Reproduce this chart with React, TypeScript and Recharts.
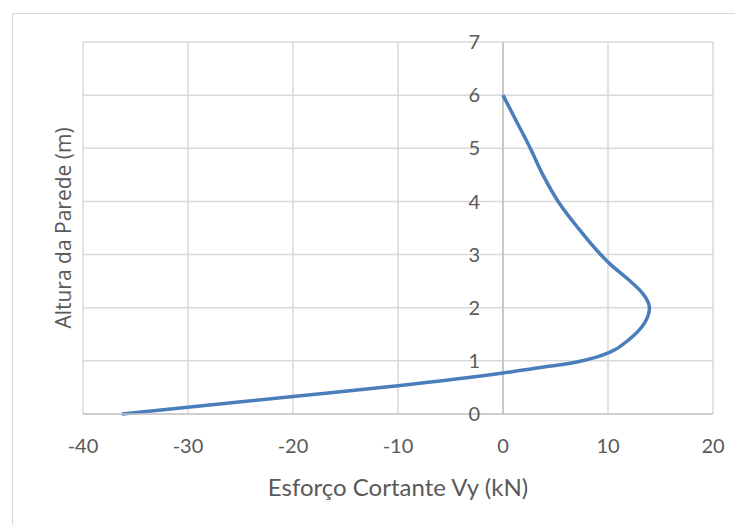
import React from "react";
import {
  LineChart,
  Line,
  XAxis,
  YAxis,
  CartesianGrid,
  ReferenceLine,
  ReferenceDot,
} from "recharts";

// altura da parede (m) e esforço cortante Vy (kN)
const alturas = [0, 0.33, 0.53, 0.77, 0.87, 0.97, 1.07, 1.16, 1.41, 1.72, 2.0, 2.27, 2.52, 2.83, 3.0, 3.5, 4.0, 4.5, 5.0, 5.5, 6.0];
const cortantes = [-36.3, -20, -10, 0, 3.4, 6.8, 8.9, 10.15, 12.05, 13.5, 13.95, 13.3, 12.0, 10.15, 9.3, 7.15, 5.25, 3.8, 2.6, 1.3, 0];

const xTicks = [-40, -30, -20, -10, 0, 10, 20];
const yTicks = [0, 1, 2, 3, 4, 5, 6, 7];

const data = alturas.map((h, i) => ({ x: cortantes[i], y: h }));

const tickFont = { fontFamily: "Lato", fontSize: 20, fill: "#595959" };

export default function App() {
  return (
    <div style={{ position: "relative", width: 735, height: 517, overflow: "hidden" }}>
      <div
        style={{
          position: "absolute",
          left: 4,
          top: 5,
          width: 800,
          height: 600,
          border: "1px solid #d9d9d9",
        }}
      />
      <LineChart
        width={735}
        height={517}
        data={data}
        margin={{ top: 34, right: 30, bottom: 21, left: 0 }}
        style={{ position: "absolute", left: 0, top: 0 }}
      >
        <CartesianGrid stroke="#d9d9d9" strokeWidth={1.5} horizontal={false} />
        <XAxis
          type="number"
          dataKey="x"
          domain={[-40, 20]}
          ticks={xTicks}
          height={90}
          tickLine={false}
          tickSize={6}
          tickMargin={19}
          axisLine={{ stroke: "#bfbfbf", strokeWidth: 1.5 }}
          tick={tickFont}
          label={{
            value: "Esforço Cortante Vy (kN)",
            position: "insideBottom",
            offset: 8,
            style: { fontFamily: "Lato", fontSize: 24, fill: "#595959" },
          }}
        />
        <YAxis
          type="number"
          domain={[0, 7]}
          ticks={yTicks}
          width={75}
          tick={false}
          tickLine={false}
          axisLine={false}
          label={{
            content: ({ viewBox }: any) => {
              const cx = 55;
              const cy = viewBox.y + viewBox.height / 2;
              return (
                <text
                  x={cx}
                  y={cy}
                  transform={`rotate(-90, ${cx}, ${cy})`}
                  textAnchor="middle"
                  dominantBaseline="central"
                  style={{ fontFamily: "Open Sans", fontSize: 21, fill: "#595959" }}
                >
                  Altura da Parede (m)
                </text>
              );
            },
          }}
        />
        {yTicks.slice(1).map((t) => (
          <ReferenceLine key={`g${t}`} y={t} stroke="#d9d9d9" strokeWidth={1.5} />
        ))}
        <ReferenceLine x={0} stroke="#bfbfbf" strokeWidth={1.5} />
        {yTicks.map((t) => (
          <ReferenceDot
            key={t}
            x={0}
            y={t}
            r={0}
            stroke="none"
            fill="none"
            label={{ value: String(t), position: "left", offset: 23, style: tickFont }}
          />
        ))}
        <Line
          dataKey="y"
          type="monotoneY"
          stroke="#4a7ebb"
          strokeWidth={3.5}
          dot={false}
          isAnimationActive={false}
        />
      </LineChart>
    </div>
  );
}
